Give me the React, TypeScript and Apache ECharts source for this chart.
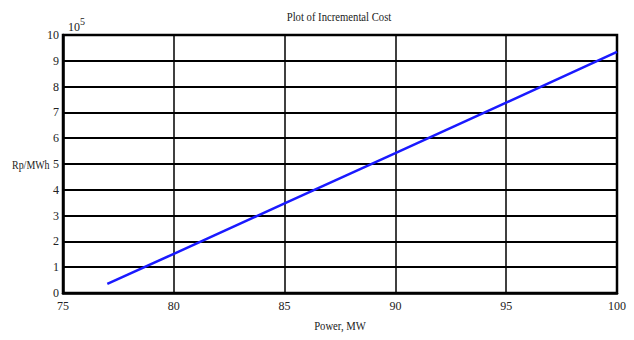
import React, { useEffect, useRef } from "react";
import * as echarts from "echarts";

const powerMW = [77, 80, 85, 90, 95, 100];
const costRp = [0.35, 1.52, 3.47, 5.42, 7.38, 9.35];
const title = "Plot of Incremental Cost";
const xName = "Power, MW";
const yName = "Rp/MWh";

const FONT = "Liberation Serif";

export default function App() {
  const ref = useRef<HTMLDivElement>(null);
  useEffect(() => {
    document.body.style.margin = "0";
    const chart = echarts.init(ref.current!, null, { renderer: "svg" });
    chart.setOption({
      animation: false,
      backgroundColor: "#ffffff",
      grid: {
        left: 63,
        right: 17,
        top: 35,
        bottom: 47,
        containLabel: false,
        outerBoundsMode: "none",
        show: true,
        borderColor: "#000",
        borderWidth: 2.5,
        backgroundColor: "transparent",
      },
      xAxis: {
        type: "value",
        min: 75,
        max: 100,
        interval: 5,
        axisLine: { show: true, lineStyle: { color: "#000", width: 2.5 } },
        axisTick: { show: false },
        axisLabel: { fontFamily: FONT, fontSize: 12, color: "#222", margin: 7 },
        splitLine: { show: true, lineStyle: { color: "#000", width: 1.5 } },
      },
      yAxis: {
        type: "value",
        min: 0,
        max: 10,
        interval: 1,
        axisLine: { show: true, lineStyle: { color: "#000", width: 2.5 } },
        axisTick: { show: false },
        axisLabel: { fontFamily: FONT, fontSize: 12, color: "#222", margin: 4 },
        splitLine: { show: true, lineStyle: { color: "#000", width: 2 } },
      },
      graphic: [
        {
          type: "text",
          x: 339,
          y: 11,
          scaleX: 0.89,
          style: { text: title, font: `12px ${FONT}`, fill: "#222", align: "center", verticalAlign: "top" },
        },
        {
          type: "text",
          x: 340,
          y: 320,
          scaleX: 0.89,
          style: { text: xName, font: `12px ${FONT}`, fill: "#222", align: "center", verticalAlign: "top" },
        },
        {
          type: "text",
          x: 12,
          y: 159,
          scaleX: 0.83,
          style: { text: yName, font: `12px ${FONT}`, fill: "#222", verticalAlign: "top" },
        },
        {
          type: "text",
          x: 68,
          y: 21,
          style: { text: "10", font: `12px ${FONT}`, fill: "#222", verticalAlign: "top" },
        },
        {
          type: "text",
          x: 80,
          y: 16,
          style: { text: "5", font: `10px ${FONT}`, fill: "#222", verticalAlign: "top" },
        },
      ],
      series: [
        {
          type: "line",
          data: powerMW.map((p, i) => [p, costRp[i]]),
          showSymbol: false,
          symbol: "none",
          lineStyle: { color: "#1a1aff", width: 2.5 },
        },
      ],
    });
    return () => chart.dispose();
  }, []);
  return (
    <div
      ref={ref}
      style={{ width: 634, height: 340, position: "absolute", left: 0, top: 0 }}
    />
  );
}
